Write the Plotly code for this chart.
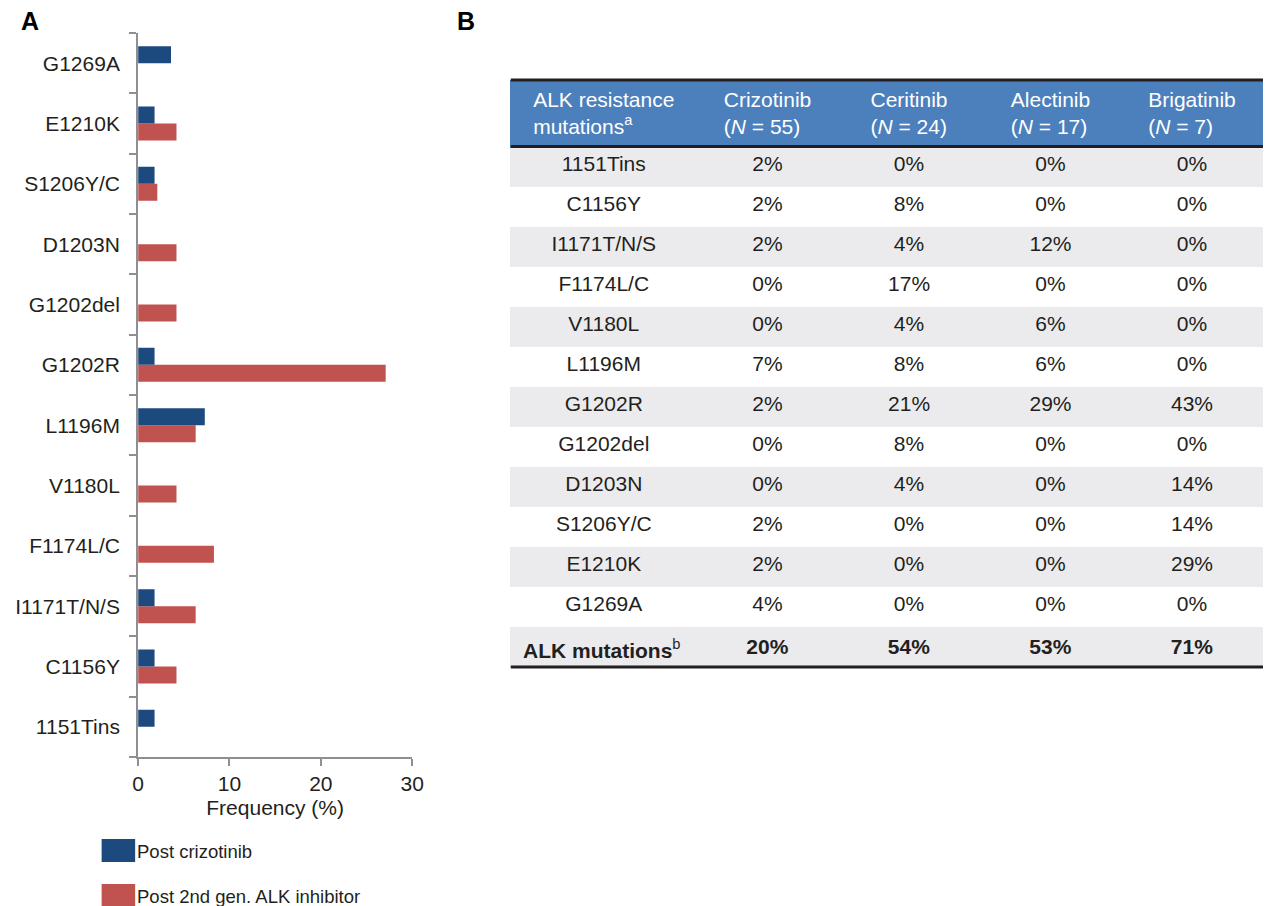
import plotly.graph_objects as go

# ALK resistance mutations (bottom to top on the bar chart, top to bottom in the table)
mutations = ["1151Tins", "C1156Y", "I1171T/N/S", "F1174L/C", "V1180L", "L1196M",
             "G1202R", "G1202del", "D1203N", "S1206Y/C", "E1210K", "G1269A"]

# Frequency (%) of each mutation
post_crizotinib = [1.8, 1.8, 1.8, 0, 0, 7.3, 1.8, 0, 0, 1.8, 1.8, 3.6]
post_2nd_gen = [0, 4.2, 6.3, 8.3, 4.2, 6.3, 27.1, 4.2, 4.2, 2.1, 4.2, 0]

# Table percentages by drug
crizotinib = [2, 2, 2, 0, 0, 7, 2, 0, 0, 2, 2, 4]
ceritinib = [0, 8, 4, 17, 4, 8, 21, 8, 4, 0, 0, 0]
alectinib = [0, 0, 12, 0, 6, 6, 29, 0, 0, 0, 0, 0]
brigatinib = [0, 0, 0, 0, 0, 0, 43, 0, 14, 14, 29, 0]
totals = [20, 54, 53, 71]
drug_names = ["Crizotinib", "Ceritinib", "Alectinib", "Brigatinib"]
drug_n = [55, 24, 17, 7]
total_label = "<b>ALK mutations</b><sup>b</sup>"

legend_labels = ["Post crizotinib", "Post 2nd gen. ALK inhibitor"]

BLUE = "#1c4a7e"
RED = "#c0524f"
HEAD = "#4c80bd"
GRAY_ROW = "#ebebed"
INK = "#231f20"
AXIS = "#8e8e93"
FONT = "Liberation Sans, Arial, sans-serif"

W, H = 1275, 906


def px(x):
    return x / W


def py(y):
    return 1 - y / H


fig = go.Figure()

# Red first so the blue bar sits above it in each group
fig.add_trace(go.Bar(y=mutations, x=post_2nd_gen, orientation="h",
                     marker=dict(color=RED, line=dict(width=0)),
                     name=legend_labels[1], showlegend=False, hoverinfo="x+y"))
fig.add_trace(go.Bar(y=mutations, x=post_crizotinib, orientation="h",
                     marker=dict(color=BLUE, line=dict(width=0)),
                     name=legend_labels[0], showlegend=False, hoverinfo="x+y"))

# Table
header_vals = ["ALK resistance<br>mutations<sup>a</sup>"] + [
    f"{d}<br>(<i>N</i> = {n})" for d, n in zip(drug_names, drug_n)]

# last row label of the first column is left-aligned, added as an annotation below
first_col = mutations + [""]


def pct_col(vals, total):
    return [f"{v}%" for v in vals] + [f"<b>{total}%</b>"]


cols = [first_col,
        pct_col(crizotinib, totals[0]),
        pct_col(ceritinib, totals[1]),
        pct_col(alectinib, totals[2]),
        pct_col(brigatinib, totals[3])]

n_rows = len(first_col)
row_fill = [GRAY_ROW if i % 2 == 0 else "white" for i in range(n_rows)]

TABLE_TOP, HEAD_H, ROW_H = 80, 67, 40
TABLE_BOTTOM = TABLE_TOP + HEAD_H + ROW_H * n_rows

fig.add_trace(go.Table(
    domain=dict(x=[px(512), px(1275)], y=[py(TABLE_BOTTOM + 1), py(TABLE_TOP)]),
    columnwidth=[188, 143, 143, 143, 143],
    header=dict(values=header_vals, height=HEAD_H, align="center",
                fill=dict(color=HEAD), line=dict(color=HEAD, width=1),
                font=dict(family=FONT, size=21, color="white")),
    cells=dict(values=cols, height=ROW_H, align="center",
               fill=dict(color=[row_fill]), line=dict(color=[row_fill], width=1),
               font=dict(family=FONT, size=21, color=INK)),
))

shapes = []
# Table rules
for y, w in [(TABLE_TOP, 3), (TABLE_TOP + HEAD_H - 0.5, 3), (TABLE_BOTTOM, 3)]:
    shapes.append(dict(type="line", xref="paper", yref="paper",
                       x0=px(512), x1=1, y0=py(y), y1=py(y),
                       line=dict(color=INK, width=w), layer="above"))
# Legend swatches
for (y0, y1), c in zip([(839, 862), (884, 907)], [BLUE, RED]):
    shapes.append(dict(type="rect", xref="paper", yref="paper",
                       x0=px(97), x1=px(131), y0=py(y1), y1=py(y0),
                       fillcolor=c, line=dict(width=0)))

annotations = [
    dict(text="<b>A</b>", x=px(13), y=py(5), xanchor="left", yanchor="top",
         font=dict(size=25, color="black", family=FONT)),
    dict(text="<b>B</b>", x=px(455), y=py(5), xanchor="left", yanchor="top",
         font=dict(size=25, color="black", family=FONT)),
    dict(text=legend_labels[0], x=px(131), y=py(851), xanchor="left", yanchor="middle",
         font=dict(size=18.5, color=INK, family=FONT)),
    dict(text=legend_labels[1], x=px(131), y=py(896), xanchor="left", yanchor="middle",
         font=dict(size=18.5, color=INK, family=FONT)),
    dict(text=total_label, x=px(522), y=py(TABLE_BOTTOM - ROW_H / 2 + 2), xanchor="left",
         yanchor="middle", font=dict(size=21, color=INK, family=FONT)),
]
for a in annotations:
    a.update(xref="paper", yref="paper", showarrow=False)

fig.update_layout(
    width=W, height=H,
    margin=dict(l=0, r=0, t=0, b=0),
    paper_bgcolor="white", plot_bgcolor="white",
    barmode="group", bargap=0.436, bargroupgap=0,
    font=dict(family=FONT, color=INK),
    shapes=shapes, annotations=annotations,
    xaxis=dict(domain=[px(134), px(412)], range=[0, 30], tickvals=[0, 10, 20, 30],
               showgrid=False, zeroline=False, showline=True, linecolor=AXIS, linewidth=2,
               ticks="outside", ticklen=7, tickcolor=AXIS, tickwidth=2,
               tickfont=dict(size=21, color=INK, family=FONT),
               title=dict(text="Frequency (%)", font=dict(size=21, color=INK, family=FONT),
                          standoff=6),
               anchor="y", fixedrange=True),
    yaxis=dict(domain=[py(757), py(33)], type="category",
               categoryorder="array", categoryarray=mutations,
               showgrid=False, zeroline=False, showline=True, linecolor=AXIS, linewidth=2,
               ticks="outside", ticklen=7, tickcolor=AXIS, tickwidth=2, tickson="boundaries",
               tickfont=dict(size=21, color=INK, family=FONT), ticklabelstandoff=12,
               anchor="x", fixedrange=True),
)

fig.write_html("out.html")
